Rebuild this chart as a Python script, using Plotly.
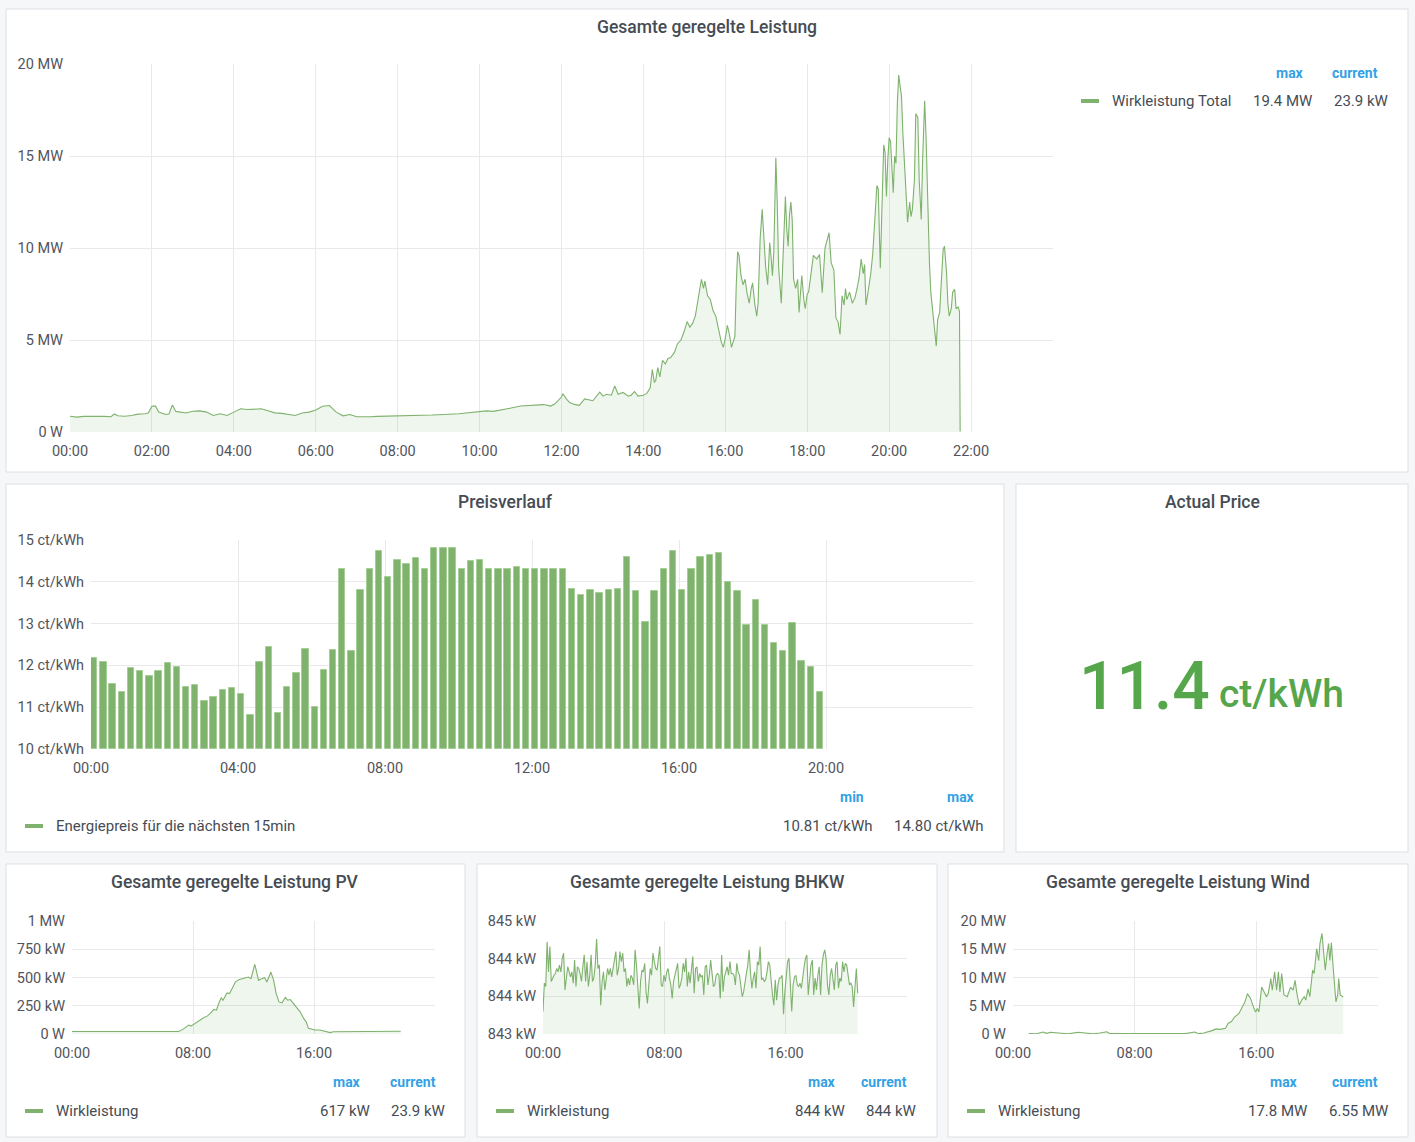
import pandas as pd
import plotly.graph_objects as go

W, H = 1415, 1142
DAY = "2021-03-01 "

# Gesamte geregelte Leistung (MW)
total_time = [
    "00:00", "00:10", "00:20", "00:30", "00:40", "00:50", "01:00", "01:05", "01:10", "01:20",
    "01:30", "01:40", "01:50", "01:55", "02:00", "02:05", "02:10", "02:20", "02:25", "02:30",
    "02:35", "02:40", "02:50", "03:00", "03:10", "03:20", "03:30", "03:40", "03:50", "04:00",
    "04:10", "04:20", "04:30", "04:40", "04:50", "05:00", "05:10", "05:20", "05:30", "05:40",
    "05:50", "06:00", "06:10", "06:20", "06:30", "06:40", "06:50", "07:00", "07:10", "07:20",
    "07:30", "07:40", "07:50", "08:00", "08:10", "08:20", "08:30", "08:40", "08:50", "09:00",
    "09:10", "09:20", "09:30", "09:40", "09:50", "10:00", "10:10", "10:20", "10:31", "10:46",
    "11:00", "11:20", "11:34", "11:44", "11:50", "12:00", "12:02", "12:07", "12:12", "12:19",
    "12:26", "12:34", "12:39", "12:46", "12:56", "13:01", "13:06", "13:13", "13:18", "13:23",
    "13:30", "13:38", "13:42", "13:47", "13:52", "13:57", "14:00", "14:05", "14:10", "14:13",
    "14:16", "14:18", "14:21", "14:24", "14:28", "14:32", "14:36", "14:40", "14:45", "14:50",
    "14:55", "15:00", "15:04", "15:08", "15:12", "15:16", "15:20", "15:25", "15:28", "15:30",
    "15:34", "15:38", "15:42", "15:46", "15:50", "15:54", "15:57", "16:00", "16:03", "16:06",
    "16:09", "16:12", "16:14", "16:16", "16:18", "16:20", "16:23", "16:26", "16:29", "16:32",
    "16:35", "16:38", "16:40", "16:43", "16:46", "16:48", "16:51", "16:54", "16:56", "16:59",
    "17:02", "17:05", "17:07", "17:09", "17:11", "17:14", "17:16", "17:18", "17:20", "17:22",
    "17:24", "17:26", "17:28", "17:30", "17:32", "17:34", "17:36", "17:38", "17:40", "17:43",
    "17:46", "17:48", "17:50", "17:52", "17:55", "17:57", "18:00", "18:02", "18:09", "18:14",
    "18:18", "18:22", "18:26", "18:30", "18:32", "18:35", "18:39", "18:42", "18:45", "18:48",
    "18:51", "18:54", "18:56", "18:58", "19:02", "19:06", "19:10", "19:13", "19:16", "19:19",
    "19:22", "19:24", "19:26", "19:29", "19:33", "19:36", "19:39", "19:42", "19:44", "19:47",
    "19:49", "19:52", "19:54", "19:56", "19:58", "20:00", "20:02", "20:04", "20:06", "20:08",
    "20:10", "20:12", "20:14", "20:16", "20:18", "20:20", "20:23", "20:25", "20:27", "20:30",
    "20:32", "20:34", "20:37", "20:39", "20:42", "20:44", "20:47", "20:49", "20:52", "20:54",
    "20:57", "20:59", "21:01", "21:04", "21:06", "21:09", "21:11", "21:14", "21:16", "21:19",
    "21:21", "21:24", "21:26", "21:28", "21:31", "21:33", "21:36", "21:38", "21:41", "21:43",
    "21:44",
]
total_mw = [
    0.86, 0.81, 0.85, 0.86, 0.88, 0.85, 0.83, 0.98, 0.88, 0.86,
    0.90, 0.97, 0.99, 1.05, 1.40, 1.42, 1.08, 0.95, 0.98, 1.47,
    1.12, 1.08, 1.03, 1.13, 1.15, 1.08, 0.90, 0.99, 0.90, 1.08,
    1.26, 1.22, 1.26, 1.26, 1.15, 1.04, 1.01, 0.94, 0.90, 1.03,
    1.08, 1.19, 1.40, 1.44, 1.08, 0.88, 0.95, 0.83, 0.81, 0.83,
    0.85, 0.86, 0.85, 0.85, 0.85, 0.86, 0.88, 0.90, 0.92, 0.94,
    0.95, 0.97, 0.99, 1.03, 1.08, 1.12, 1.15, 1.12, 1.18, 1.30,
    1.41, 1.45, 1.49, 1.41, 1.52, 1.90, 2.08, 1.80, 1.60, 1.50,
    1.45, 1.80, 1.75, 1.70, 2.17, 1.95, 2.05, 2.00, 2.50, 2.05,
    2.15, 1.95, 2.00, 2.20, 1.95, 2.00, 2.00, 2.10, 2.40, 3.40,
    2.70, 2.80, 3.50, 3.00, 3.90, 3.70, 4.00, 4.05, 4.30, 4.80,
    5.00, 5.50, 6.00, 5.70, 5.90, 6.30, 7.20, 8.30, 7.80, 8.20,
    7.40, 7.20, 6.60, 6.30, 5.60, 4.90, 4.60, 5.10, 5.80, 5.30,
    4.60, 5.00, 5.20, 8.00, 9.80, 9.60, 8.50, 8.00, 8.30, 7.50,
    7.00, 7.80, 8.10, 7.00, 6.30, 7.00, 10.50, 12.10, 10.80, 9.00,
    8.00, 10.30, 9.50, 8.50, 9.80, 14.90, 12.50, 9.00, 8.00, 7.00,
    9.00, 11.50, 12.80, 11.00, 10.10, 11.80, 12.50, 11.50, 8.30, 7.80,
    8.30, 6.50, 7.80, 8.50, 7.20, 6.70, 7.50, 7.60, 9.60, 9.40,
    9.65, 7.57, 10.00, 10.50, 10.83, 9.20, 8.80, 6.20, 6.00, 5.30,
    7.40, 6.90, 7.80, 7.20, 7.60, 7.00, 7.30, 7.80, 8.40, 9.40,
    8.60, 9.10, 6.90, 7.60, 8.60, 9.70, 11.60, 13.40, 13.20, 8.90,
    11.60, 15.60, 15.20, 12.80, 14.80, 16.00, 15.80, 14.50, 13.00, 15.00,
    14.60, 17.90, 19.40, 18.80, 18.30, 16.30, 13.90, 12.60, 11.40, 12.50,
    11.70, 12.10, 13.70, 17.30, 17.10, 13.70, 11.55, 14.80, 18.00, 16.10,
    11.70, 9.20, 7.60, 6.50, 5.80, 4.67, 6.10, 6.50, 7.90, 9.90,
    10.10, 8.70, 7.00, 6.30, 6.70, 7.60, 7.75, 6.70, 6.80, 6.55,
    0.0239,
]

# Preisverlauf, 15 min Preise ab 00:00 (ct/kWh)
price_ct = [
    12.17, 12.07, 11.56, 11.37, 11.93, 11.86, 11.75, 11.87, 12.06, 11.97,
    11.49, 11.53, 11.14, 11.25, 11.40, 11.47, 11.31, 10.81, 12.08, 12.44,
    10.87, 11.49, 11.83, 12.40, 11.01, 11.90, 12.36, 14.30, 12.34, 13.80,
    14.30, 14.73, 14.11, 14.51, 14.43, 14.58, 14.30, 14.80, 14.80, 14.80,
    14.31, 14.49, 14.53, 14.31, 14.31, 14.31, 14.35, 14.30, 14.30, 14.30,
    14.30, 14.30, 13.83, 13.69, 13.80, 13.74, 13.80, 13.83, 14.60, 13.79,
    13.05, 13.79, 14.30, 14.73, 13.80, 14.30, 14.60, 14.63, 14.70, 13.99,
    13.78, 12.96, 13.56, 12.96, 12.54, 12.35, 13.02, 12.11, 11.97, 11.37,
]
actual_price = 11.4

# PV (kW)
pv_time = [
    "00:00", "07:03", "07:20", "07:36", "07:43", "07:52", "08:02", "08:22", "08:42", "08:56",
    "09:09", "09:23", "09:33", "09:42", "09:52", "09:59", "10:08", "10:15", "10:25", "10:35",
    "10:48", "11:01", "11:14", "11:27", "11:40", "11:50", "11:58", "12:05", "12:11", "12:20",
    "12:33", "12:44", "12:53", "13:04", "13:09", "13:20", "13:30", "13:41", "13:53", "14:06",
    "14:15", "14:26", "14:39", "14:52", "15:05", "15:19", "15:29", "15:38", "15:51", "16:04",
    "16:24", "16:44", "17:04", "17:17", "21:44",
]
pv_kw = [
    22, 22, 41, 70, 79, 70, 85, 108, 144, 158,
    182, 217, 211, 270, 320, 299, 343, 364, 358, 402,
    460, 481, 490, 499, 504, 490, 563, 617, 563, 475,
    490, 499, 460, 534, 548, 475, 358, 284, 276, 323,
    299, 305, 270, 226, 196, 138, 108, 50, 44, 35,
    35, 23, 12, 20, 23.9,
]

# BHKW (kW), gleichmaessig von 00:00 bis 20:45
bhkw_kw = [
    843.40, 843.90, 843.84, 844.63, 844.10, 844.55, 843.93, 843.99, 844.04, 844.07,
    844.16, 844.10, 844.22, 844.10, 844.34, 844.43, 843.78, 843.99, 844.19, 844.10,
    844.01, 844.10, 843.90, 844.31, 843.84, 844.19, 844.16, 844.07, 843.93, 844.19,
    844.40, 843.93, 844.28, 843.84, 844.04, 844.40, 843.93, 843.99, 844.22, 844.68,
    844.16, 844.22, 843.51, 843.93, 844.10, 843.78, 843.93, 844.16, 844.04, 844.16,
    844.01, 844.16, 844.28, 844.46, 844.04, 844.16, 844.46, 844.28, 844.43, 844.10,
    844.16, 843.84, 843.99, 843.87, 844.04, 843.99, 843.87, 844.49, 844.22, 843.87,
    843.45, 843.93, 844.13, 844.10, 844.25, 843.75, 843.54, 843.87, 844.16, 844.04,
    844.43, 844.28, 844.16, 844.13, 844.40, 844.55, 843.87, 843.84, 844.04, 843.93,
    844.10, 844.16, 843.99, 843.87, 843.63, 843.93, 844.04, 844.16, 844.25, 843.81,
    843.87, 843.99, 844.25, 844.10, 844.34, 843.84, 844.10, 843.90, 844.22, 844.37,
    843.72, 844.16, 844.19, 843.93, 844.07, 844.01, 844.04, 843.69, 844.19, 844.22,
    843.87, 844.04, 844.31, 844.10, 843.84, 843.87, 844.04, 844.07, 844.04, 843.63,
    844.40, 843.75, 844.01, 844.10, 844.19, 844.04, 844.28, 844.07, 844.07, 844.04,
    843.87, 844.25, 844.10, 844.04, 843.84, 843.66, 843.75, 843.96, 844.07, 844.22,
    844.49, 844.07, 843.81, 843.99, 844.10, 843.81, 844.28, 844.22, 844.55, 843.96,
    843.99, 843.93, 843.96, 844.10, 844.28, 844.22, 843.90, 843.69, 843.51, 843.96,
    843.60, 843.87, 843.99, 843.99, 844.04, 843.35, 843.75, 844.04, 844.28, 844.34,
    843.87, 843.40, 843.87, 844.01, 844.04, 843.87, 843.84, 843.90, 843.81, 844.04,
    844.19, 844.34, 844.40, 843.69, 843.99, 844.22, 844.31, 843.69, 843.99, 843.78,
    844.04, 844.19, 843.69, 844.22, 844.40, 844.49, 844.34, 843.87, 843.69, 844.04,
    844.16, 843.99, 843.78, 844.22, 844.28, 843.81, 843.99, 843.93, 844.28, 844.10,
    844.25, 844.22, 844.04, 843.87, 843.90, 843.84, 843.48, 843.75, 844.16, 843.72,
]

# Wind (MW)
wind_time = [
    "01:02", "01:32", "01:59", "02:12", "02:29", "02:52", "03:11", "03:38", "03:58", "04:17",
    "04:44", "05:17", "05:43", "06:10", "06:23", "06:43", "07:09", "09:00", "11:20", "11:57",
    "12:13", "12:33", "12:52", "13:05", "13:21", "13:38", "13:58", "14:09", "14:22", "14:35",
    "14:51", "15:04", "15:15", "15:25", "15:37", "15:51", "15:57", "16:04", "16:10", "16:21",
    "16:30", "16:40", "16:47", "16:57", "17:03", "17:12", "17:20", "17:27", "17:33", "17:40",
    "17:49", "18:02", "18:15", "18:25", "18:33", "18:39", "18:49", "18:59", "19:09", "19:15",
    "19:24", "19:31", "19:42", "19:48", "19:58", "20:06", "20:11", "20:19", "20:26", "20:32",
    "20:39", "20:45", "20:50", "20:56", "21:01", "21:08", "21:14", "21:21", "21:25", "21:31",
    "21:38", "21:43",
]
wind_mw = [
    0.06, 0.05, 0.35, 0.12, 0.30, 0.15, 0.12, 0.02, 0.23, 0.30,
    0.18, 0.02, 0.18, 0.40, 0.06, 0.06, 0.02, 0.02, 0.06, 0.35,
    0.06, 0.18, 0.40, 0.60, 0.90, 0.82, 1.00, 1.90, 2.20, 3.05,
    3.60, 4.80, 5.70, 7.15, 6.30, 4.50, 3.90, 4.50, 3.90, 8.30,
    7.45, 6.60, 7.15, 9.80, 7.75, 11.0, 7.75, 11.0, 7.45, 10.7,
    6.90, 6.60, 8.30, 7.75, 9.50, 7.45, 5.10, 6.00, 6.60, 6.00,
    8.00, 6.60, 11.3, 10.7, 15.1, 13.0, 16.0, 17.8, 14.2, 11.3,
    14.2, 16.0, 13.0, 16.2, 13.0, 8.80, 5.70, 6.90, 9.80, 6.90,
    6.60, 6.55,
]

# tick labels
power_ticks = [0, 5, 10, 15, 20]
power_text = ["0 W", "5 MW", "10 MW", "15 MW", "20 MW"]
price_ticks = [10, 11, 12, 13, 14, 15]
price_text = ["10 ct/kWh", "11 ct/kWh", "12 ct/kWh", "13 ct/kWh", "14 ct/kWh", "15 ct/kWh"]
pv_ticks = [0, 250, 500, 750, 1000]
pv_text = ["0 W", "250 kW", "500 kW", "750 kW", "1 MW"]
bhkw_ticks = [843, 843.667, 844.333, 845]
bhkw_text = ["843 kW", "844 kW", "844 kW", "845 kW"]
hours_2h = ["00:00", "02:00", "04:00", "06:00", "08:00", "10:00", "12:00", "14:00",
            "16:00", "18:00", "20:00", "22:00"]
hours_4h = ["00:00", "04:00", "08:00", "12:00", "16:00", "20:00"]
hours_8h = ["00:00", "08:00", "16:00"]

GREEN = "#7eb26d"
FILL = "rgba(126,178,109,0.12)"
BLUE = "#33a2e5"
TEXT = "#464c54"
TICK = "#52545c"
GRID = "#e9e9ec"
FONT = "Roboto"


def px(x):
    return x / W


def py(y):
    return 1 - y / H


def stamp(times):
    return [DAY + s for s in times]


fig = go.Figure()

# line panels
fig.add_trace(go.Scatter(x=stamp(total_time), y=total_mw, mode="lines", fill="tozeroy",
                         line=dict(color=GREEN, width=1.1), fillcolor=FILL,
                         xaxis="x", yaxis="y"))

price_x = pd.date_range(DAY + "00:00", periods=len(price_ct), freq="15min")
fig.add_trace(go.Bar(x=price_x, y=[p - 10 for p in price_ct], base=10, offset=0,
                     width=10.4 * 60000,
                     marker=dict(color=GREEN, line=dict(color="#a6cf98", width=1)),
                     xaxis="x2", yaxis="y2"))

fig.add_trace(go.Scatter(x=stamp(pv_time), y=pv_kw, mode="lines", fill="tozeroy",
                         line=dict(color=GREEN, width=1.1), fillcolor=FILL,
                         xaxis="x3", yaxis="y3"))

bhkw_x = pd.date_range(DAY + "00:00", DAY + "20:45", periods=len(bhkw_kw))
fig.add_trace(go.Scatter(x=bhkw_x, y=bhkw_kw, mode="lines", fill="tozeroy",
                         line=dict(color=GREEN, width=1.1), fillcolor=FILL,
                         xaxis="x4", yaxis="y4"))

fig.add_trace(go.Scatter(x=stamp(wind_time), y=wind_mw, mode="lines", fill="tozeroy",
                         line=dict(color=GREEN, width=1.1), fillcolor=FILL,
                         xaxis="x5", yaxis="y5"))

xr = [DAY + "00:00", "2021-03-02 00:00"]


def xaxis(x0, x1, anchor, ticks):
    return dict(domain=[px(x0), px(x1)], anchor=anchor, range=xr, type="date",
                tickvals=stamp(ticks), ticktext=ticks, showgrid=True, gridcolor=GRID,
                zeroline=False, showline=False, ticks="", ticklabelstandoff=8,
                automargin=False,
                tickfont=dict(family=FONT, size=14.5, color=TICK), fixedrange=True)


def yaxis(y0, y1, anchor, rng, vals, text):
    return dict(domain=[py(y1), py(y0)], anchor=anchor, range=rng, tickvals=vals,
                ticktext=text, showgrid=True, gridcolor=GRID, zeroline=False,
                showline=False, ticks="", ticklabelstandoff=6, automargin=False,
                tickfont=dict(family=FONT, size=14.5, color=TICK), fixedrange=True)


layout_axes = dict(
    xaxis=xaxis(70, 1053, "y", hours_2h),
    yaxis=yaxis(64, 432, "x", [0, 20], power_ticks, power_text),
    xaxis2=xaxis(91, 973, "y2", hours_4h),
    yaxis2=yaxis(540, 749, "x2", [10, 15], price_ticks, price_text),
    xaxis3=xaxis(72, 435, "y3", hours_8h),
    yaxis3=yaxis(921, 1034, "x3", [0, 1000], pv_ticks, pv_text),
    xaxis4=xaxis(543, 907, "y4", hours_8h),
    yaxis4=yaxis(921, 1034, "x4", [843, 845], bhkw_ticks, bhkw_text),
    xaxis5=xaxis(1013, 1378, "y5", hours_8h),
    yaxis5=yaxis(921, 1034, "x5", [0, 20], power_ticks, power_text),
)

shapes = []
annotations = []

# panels
panels = [(6, 9, 1408, 472), (6, 484, 1004, 852), (1016, 484, 1408, 852),
          (6, 864, 465, 1137), (477, 864, 937, 1137), (948, 864, 1408, 1137)]
for x0, y0, x1, y1 in panels:
    shapes.append(dict(type="rect", xref="paper", yref="paper", x0=px(x0), x1=px(x1),
                       y0=py(y1), y1=py(y0), fillcolor="white",
                       line=dict(color="#dcdfe4", width=1), layer="below"))


def label(x, y, text, size=15, color=TEXT, xanchor="left", weight=400):
    annotations.append(dict(x=px(x), y=py(y), xref="paper", yref="paper", text=text,
                            showarrow=False, xanchor=xanchor, yanchor="middle",
                            font=dict(family=FONT, size=size, color=color, weight=weight)))


titles = [(707, 27, "Gesamte geregelte Leistung"), (505, 502, "Preisverlauf"),
          (1212, 502, "Actual Price"), (235, 882, "Gesamte geregelte Leistung PV"),
          (707, 882, "Gesamte geregelte Leistung BHKW"),
          (1178, 882, "Gesamte geregelte Leistung Wind")]
for x, y, t in titles:
    label(x, y, t, size=17.5, xanchor="center", weight=500)


def legend(sx, sy, name, heads, vals):
    shapes.append(dict(type="rect", xref="paper", yref="paper", x0=px(sx), x1=px(sx + 18),
                       y0=py(sy + 2), y1=py(sy - 2), fillcolor=GREEN, line=dict(width=0)))
    label(sx + 29, sy, name)
    for (hx, hy, ht), (vx, vt) in zip(heads, vals):
        label(hx, hy, ht, size=14, color=BLUE, xanchor="center", weight=700)
        label(vx, sy, vt, xanchor="right")


legend(1081, 101, "Wirkleistung Total",
       [(1290, 73, "max"), (1355, 73, "current")],
       [(1314, "19.4 MW"), (1390, "23.9 kW")])
legend(25, 826, "Energiepreis für die nächsten 15min",
       [(852, 797, "min"), (961, 797, "max")],
       [(875, f"{min(price_ct):.2f} ct/kWh"), (986, f"{max(price_ct):.2f} ct/kWh")])
legend(25, 1111, "Wirkleistung",
       [(347, 1082, "max"), (413, 1082, "current")],
       [(372, "617 kW"), (447, "23.9 kW")])
legend(496, 1111, "Wirkleistung",
       [(822, 1082, "max"), (884, 1082, "current")],
       [(847, "844 kW"), (918, "844 kW")])
legend(967, 1111, "Wirkleistung",
       [(1284, 1082, "max"), (1355, 1082, "current")],
       [(1309, "17.8 MW"), (1390, "6.55 MW")])

# Actual Price single stat
label(1212, 686, f"{actual_price:.1f}", size=66, color="#56a64b", xanchor="right", weight=500)
label(1217, 694, "ct/kWh", size=39, color="#56a64b", xanchor="left", weight=500)

fig.update_layout(
    width=W, height=H, autosize=False,
    margin=dict(l=0, r=0, t=0, b=0, pad=0),
    paper_bgcolor="#f6f7f9", plot_bgcolor="rgba(0,0,0,0)",
    showlegend=False, bargap=0,
    shapes=shapes, annotations=annotations,
    font=dict(family=FONT, color=TEXT),
    **layout_axes,
)

fig.write_html("out.html", config={"displayModeBar": False},
               post_script="document.body.style.margin='0';document.body.style.overflow='hidden';")
